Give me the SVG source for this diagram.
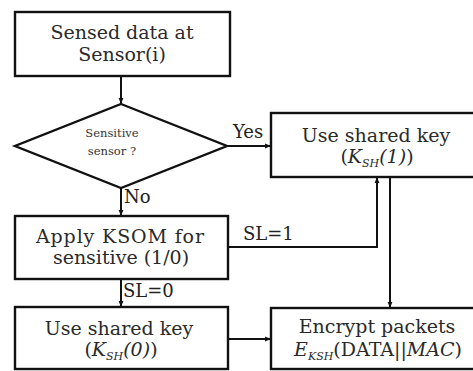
<svg xmlns="http://www.w3.org/2000/svg" width="473" height="371" viewBox="0 0 473 371">
<defs>
<marker id="ah" viewBox="0 0 10 10" refX="10" refY="5" markerWidth="6" markerHeight="6" orient="auto" markerUnits="userSpaceOnUse">
<path d="M0,1 L10,5 L0,9 Z" fill="#111"/>
</marker>
<style>
.box{fill:#fff;stroke:#111;stroke-width:2.4}
.t{font-family:"DejaVu Serif","Liberation Serif",serif;font-size:19px;fill:#2a2a2a;text-anchor:middle}
.s{font-family:"DejaVu Serif","Liberation Serif",serif;font-size:11.5px;fill:#333;text-anchor:middle}
.l{font-family:"DejaVu Serif","Liberation Serif",serif;font-size:18px;fill:#222}
.c{fill:none;stroke:#111;stroke-width:2}
</style>
</defs>
<rect width="473" height="371" fill="#fff"/>
<g id="connectors">
<line class="c" x1="121" y1="76" x2="121" y2="104" marker-end="url(#ah)"/>
<line class="c" x1="227" y1="146" x2="271" y2="146" marker-end="url(#ah)"/>
<line class="c" x1="121" y1="188" x2="121" y2="216" marker-end="url(#ah)"/>
<line class="c" x1="121" y1="279" x2="121" y2="307" marker-end="url(#ah)"/>
<polyline class="c" points="228,247 377,247 377,177" marker-end="url(#ah)"/>
<line class="c" x1="390" y1="177" x2="390" y2="308" marker-end="url(#ah)"/>
<line class="c" x1="228" y1="339" x2="271" y2="339" marker-end="url(#ah)"/>
<text class="l" x="233" y="138" font-size="15.5">Yes</text>
<text class="l" x="124" y="203">No</text>
<text class="l" x="243" y="240">SL=1</text>
<text class="l" x="123" y="297">SL=0</text>
</g>
<g id="sensed">
<rect class="box" x="15" y="12" width="215" height="64"/>
<text class="t" x="122" y="39">Sensed data at</text>
<text class="t" x="122" y="61">Sensor(i)</text>
</g>
<g id="decision">
<polygon class="box" points="121,104 227,146 121,188 15,146"/>
<text class="s" x="112" y="137">Sensitive</text>
<text class="s" x="112" y="155">sensor ?</text>
</g>
<g id="key1">
<rect class="box" x="271" y="113" width="215" height="64"/>
<text class="t" x="376" y="142">Use shared key</text>
<text class="t" x="377" y="163">(<tspan font-style="italic">K</tspan><tspan font-style="italic" font-size="11" dy="4">SH</tspan><tspan font-style="italic" dy="-4">(1)</tspan>)</text>
</g>
<g id="ksom">
<rect class="box" x="15" y="216" width="213" height="63"/>
<text class="t" x="120" y="243" textLength="168" lengthAdjust="spacing">Apply KSOM for</text>
<text class="t" x="121" y="264">sensitive (1/0)</text>
</g>
<g id="key0">
<rect class="box" x="15" y="307" width="213" height="62"/>
<text class="t" x="119" y="335">Use shared key</text>
<text class="t" x="121" y="356">(<tspan font-style="italic">K</tspan><tspan font-style="italic" font-size="11" dy="4">SH</tspan><tspan font-style="italic" dy="-4">(0)</tspan>)</text>
</g>
<g id="encrypt">
<rect class="box" x="271" y="308" width="215" height="61"/>
<text class="t" x="377" y="333">Encrypt packets</text>
<text class="t" x="378" y="356"><tspan font-style="italic">E</tspan><tspan font-style="italic" font-size="11" dy="4">KSH</tspan><tspan dy="-4">(DATA||</tspan><tspan font-style="italic">MAC</tspan>)</text>
</g>
</svg>
